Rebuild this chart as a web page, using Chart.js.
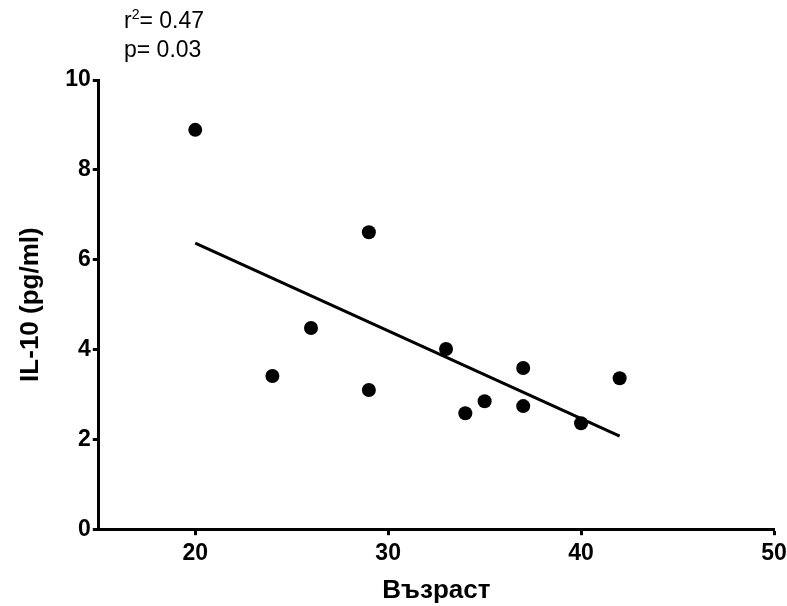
<!DOCTYPE html>
<html>
<head>
<meta charset="utf-8">
<script src="https://cdn.jsdelivr.net/npm/chart.js@4"></script>
<style>
  body { margin: 0; background: #fff; }
  #wrap { position: relative; width: 787px; height: 606px; }
  #stats {
    position: absolute; left: 124px; top: 6px;
    font: 23px "Liberation Sans", Arial, sans-serif; line-height: 29px; color: #000;
  }
  #stats sup { font-size: 14px; line-height: 0; vertical-align: 9px; }
</style>
</head>
<body>
<div id="wrap">
  <canvas id="chart" width="787" height="606"></canvas>
  <div id="stats">r<sup>2</sup>= 0.47<br>p= 0.03</div>
</div>
<script>
const ages = [20, 24, 26, 29, 29, 33, 34, 35, 37, 37, 40, 42];
const il10 = [8.89, 3.41, 4.48, 6.61, 3.10, 4.01, 2.58, 2.85, 3.59, 2.74, 2.36, 3.36];
const fitAges = [20, 42];
const fitIl10 = [6.37, 2.07];
const xTicks = [20, 30, 40, 50];
const yTicks = [0, 2, 4, 6, 8, 10];

const tickFont = { family: "'Liberation Sans', Arial, sans-serif", size: 23, weight: "bold" };
const titleFont = { family: "'Liberation Sans', Arial, sans-serif", size: 26, weight: "bold" };

new Chart(document.getElementById("chart").getContext("2d"), {
  type: "scatter",
  data: {
    datasets: [
      {
        label: "IL-10",
        data: ages.map((a, i) => ({ x: a, y: il10[i] })),
        backgroundColor: "#000",
        borderWidth: 0,
        pointRadius: 7,
        pointHoverRadius: 7
      },
      {
        type: "line",
        label: "fit",
        data: fitAges.map((a, i) => ({ x: a, y: fitIl10[i] })),
        borderColor: "#000",
        borderWidth: 3,
        pointRadius: 0,
        fill: false
      }
    ]
  },
  options: {
    responsive: false,
    animation: false,
    layout: { padding: { left: 11, top: 80, right: 0, bottom: -2 } },
    plugins: { legend: { display: false }, tooltip: { enabled: false } },
    scales: {
      x: {
        type: "linear",
        min: 15,
        max: 50,
        afterBuildTicks: s => { s.ticks = xTicks.map(v => ({ value: v })); },
        afterFit: s => { s.paddingRight = 13; },
        grid: { drawOnChartArea: false, color: "#000", tickWidth: 3, tickLength: 6 },
        border: { color: "#000", width: 3 },
        ticks: { color: "#000", font: tickFont, padding: 5, maxRotation: 0 },
        title: { display: true, text: "Възраст", color: "#000", font: titleFont, padding: { top: 2, bottom: 2 } }
      },
      y: {
        type: "linear",
        min: 0,
        max: 10,
        afterBuildTicks: s => { s.ticks = yTicks.map(v => ({ value: v })); },
        grid: { drawOnChartArea: false, color: "#000", tickWidth: 3, tickLength: 6 },
        border: { color: "#000", width: 3 },
        ticks: { color: "#000", font: tickFont, padding: 2 },
        title: { display: true, text: "IL-10 (pg/ml)", color: "#000", font: titleFont, padding: { bottom: 17 } }
      }
    }
  }
});
</script>
</body>
</html>
